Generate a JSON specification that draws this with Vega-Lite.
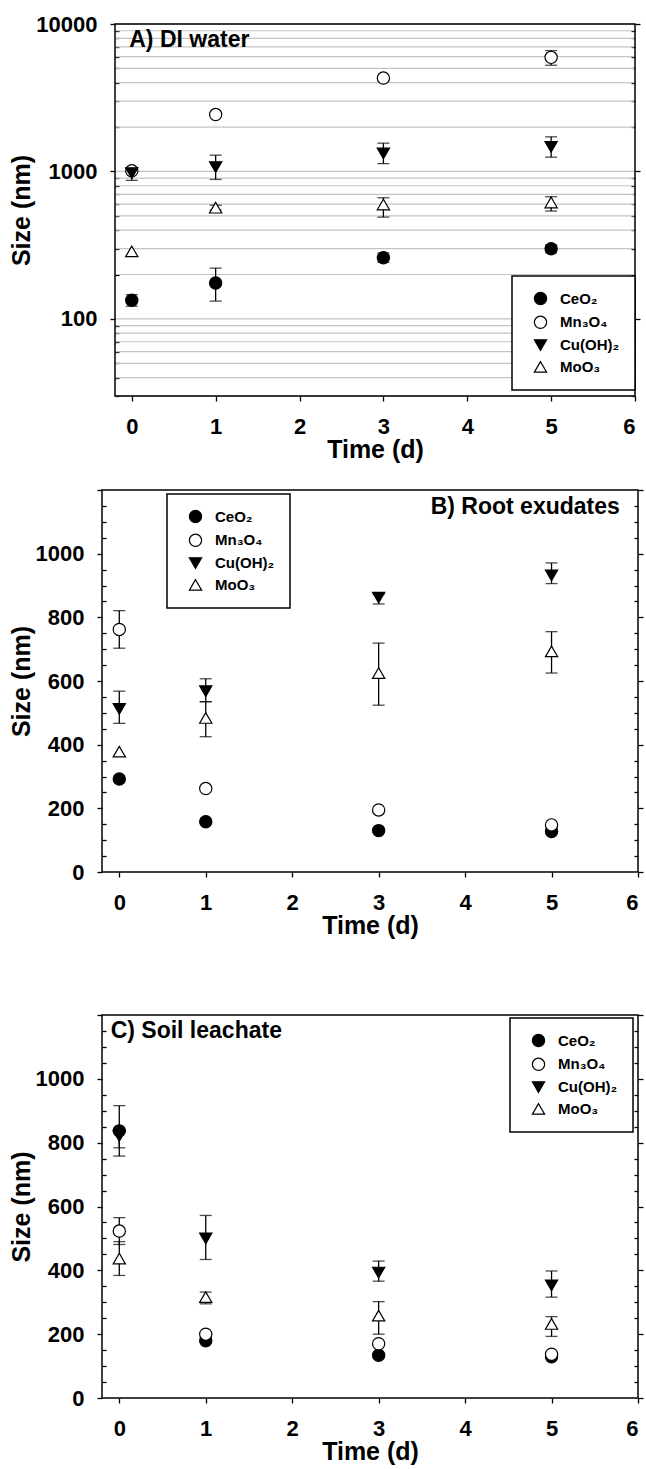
{
  "$schema": "https://vega.github.io/schema/vega-lite/v6.json",
  "padding": {"left": 8, "top": 13, "right": 4, "bottom": 4},
  "datasets": {
    "a": [
      {"t": 0, "s": "CeO₂", "v": 134, "lo": 122, "hi": 146},
      {"t": 1, "s": "CeO₂", "v": 175, "lo": 132, "hi": 221},
      {"t": 3, "s": "CeO₂", "v": 260, "lo": 242, "hi": 280},
      {"t": 5, "s": "CeO₂", "v": 299, "lo": 281, "hi": 318},
      {"t": 0, "s": "Mn₃O₄", "v": 1010, "lo": null, "hi": null},
      {"t": 1, "s": "Mn₃O₄", "v": 2430, "lo": null, "hi": null},
      {"t": 3, "s": "Mn₃O₄", "v": 4300, "lo": null, "hi": null},
      {"t": 5, "s": "Mn₃O₄", "v": 5940, "lo": 5250, "hi": 6600},
      {"t": 0, "s": "Cu(OH)₂", "v": 975, "lo": 870, "hi": 1060},
      {"t": 1, "s": "Cu(OH)₂", "v": 1070, "lo": 883, "hi": 1290},
      {"t": 3, "s": "Cu(OH)₂", "v": 1325, "lo": 1130, "hi": 1555},
      {"t": 5, "s": "Cu(OH)₂", "v": 1470, "lo": 1250, "hi": 1717},
      {"t": 0, "s": "MoO₃", "v": 287, "lo": null, "hi": null},
      {"t": 1, "s": "MoO₃", "v": 568, "lo": 548, "hi": 590},
      {"t": 3, "s": "MoO₃", "v": 597, "lo": 490, "hi": 663},
      {"t": 5, "s": "MoO₃", "v": 616, "lo": 539, "hi": 674}
    ],
    "grida": [
      {"g": 30}, {"g": 40}, {"g": 50}, {"g": 60}, {"g": 70}, {"g": 80}, {"g": 90},
      {"g": 100}, {"g": 200}, {"g": 300}, {"g": 400}, {"g": 500}, {"g": 600}, {"g": 700}, {"g": 800}, {"g": 900},
      {"g": 1000}, {"g": 2000}, {"g": 3000}, {"g": 4000}, {"g": 5000}, {"g": 6000}, {"g": 7000}, {"g": 8000}, {"g": 9000}, {"g": 10000}
    ],
    "b": [
      {"t": 0, "s": "CeO₂", "v": 292, "lo": null, "hi": null},
      {"t": 1, "s": "CeO₂", "v": 158, "lo": null, "hi": null},
      {"t": 3, "s": "CeO₂", "v": 130, "lo": null, "hi": null},
      {"t": 5, "s": "CeO₂", "v": 127, "lo": null, "hi": null},
      {"t": 0, "s": "Mn₃O₄", "v": 762, "lo": 703, "hi": 821},
      {"t": 1, "s": "Mn₃O₄", "v": 262, "lo": null, "hi": null},
      {"t": 3, "s": "Mn₃O₄", "v": 195, "lo": null, "hi": null},
      {"t": 5, "s": "Mn₃O₄", "v": 148, "lo": null, "hi": null},
      {"t": 0, "s": "Cu(OH)₂", "v": 512, "lo": 467, "hi": 568},
      {"t": 1, "s": "Cu(OH)₂", "v": 568, "lo": 535, "hi": 607},
      {"t": 3, "s": "Cu(OH)₂", "v": 862, "lo": 842, "hi": 872},
      {"t": 5, "s": "Cu(OH)₂", "v": 932, "lo": 906, "hi": 971},
      {"t": 0, "s": "MoO₃", "v": 378, "lo": null, "hi": null},
      {"t": 1, "s": "MoO₃", "v": 484, "lo": 425, "hi": 535},
      {"t": 3, "s": "MoO₃", "v": 625, "lo": 524, "hi": 719},
      {"t": 5, "s": "MoO₃", "v": 693, "lo": 625, "hi": 755}
    ],
    "c": [
      {"t": 0, "s": "CeO₂", "v": 837, "lo": 784, "hi": 837},
      {"t": 1, "s": "CeO₂", "v": 179, "lo": null, "hi": null},
      {"t": 3, "s": "CeO₂", "v": 134, "lo": null, "hi": null},
      {"t": 5, "s": "CeO₂", "v": 129, "lo": null, "hi": null},
      {"t": 0, "s": "Mn₃O₄", "v": 523, "lo": 481, "hi": 565},
      {"t": 1, "s": "Mn₃O₄", "v": 200, "lo": null, "hi": null},
      {"t": 3, "s": "Mn₃O₄", "v": 170, "lo": null, "hi": null},
      {"t": 5, "s": "Mn₃O₄", "v": 137, "lo": null, "hi": null},
      {"t": 0, "s": "Cu(OH)₂", "v": 821, "lo": 758, "hi": 916},
      {"t": 1, "s": "Cu(OH)₂", "v": 500, "lo": 434, "hi": 572},
      {"t": 3, "s": "Cu(OH)₂", "v": 393, "lo": 366, "hi": 429},
      {"t": 5, "s": "Cu(OH)₂", "v": 353, "lo": 316, "hi": 398},
      {"t": 0, "s": "MoO₃", "v": 437, "lo": 384, "hi": 490},
      {"t": 1, "s": "MoO₃", "v": 316, "lo": 295, "hi": 332},
      {"t": 3, "s": "MoO₃", "v": 258, "lo": 200, "hi": 302},
      {"t": 5, "s": "MoO₃", "v": 232, "lo": 193, "hi": 255}
    ],
    "labels": [
      {"panel": "A", "x": -0.03, "y": 7790, "label": "A) DI water"},
      {"panel": "B", "x": 5.79, "y": 1147, "label": "B) Root exudates"},
      {"panel": "C", "x": -0.1, "y": 1150, "label": "C) Soil leachate"}
    ]
  },
  "vconcat": [
    {
      "width": 533,
      "height": 372,
      "view": {"stroke": null},
      "data": {"name": "a"},
      "resolve": {"axis": {"y": "independent"}},
      "layer": [
        {"data": {"name": "grida"},
         "mark": {"type": "rule", "color": "#c4c4c4", "strokeWidth": 1.2},
         "encoding": {"x": {"datum": -0.2, "type": "quantitative"}, "x2": {"datum": 6}, "y": {"field": "g", "type": "quantitative", "axis": null}}},
        {"data": {"values": [{}]},
         "mark": {"type": "rect", "fill": null, "stroke": "black", "strokeWidth": 1.5},
         "encoding": {"x": {"datum": -0.2, "type": "quantitative"}, "x2": {"datum": 6}, "y": {"datum": 30, "type": "quantitative", "axis": null}, "y2": {"datum": 10000}}},
        {"mark": {"type": "rule", "color": "black", "strokeWidth": 1.3},
         "encoding": {"x": {"field": "t", "type": "quantitative"}, "y": {"field": "lo", "type": "quantitative", "axis": null}, "y2": {"field": "hi"}}},
        {"mark": {"type": "tick", "orient": "horizontal", "color": "black", "size": 12, "thickness": 1.3},
         "encoding": {"x": {"field": "t", "type": "quantitative"}, "y": {"field": "lo", "type": "quantitative", "axis": null}}},
        {"mark": {"type": "tick", "orient": "horizontal", "color": "black", "size": 12, "thickness": 1.3},
         "encoding": {"x": {"field": "t", "type": "quantitative"}, "y": {"field": "hi", "type": "quantitative", "axis": null}}},
        {"mark": {"type": "point", "size": 150, "strokeWidth": 1.2, "opacity": 1, "filled": true},
         "encoding": {
           "x": {"field": "t", "type": "quantitative", "scale": {"domain": [-0.2, 6], "range": [13, 533], "nice": false, "zero": false},
                 "axis": {"values": [0, 1, 2, 3, 4, 5, 6], "format": "d", "title": "Time (d)", "tickSize": 5, "labelPadding": 15, "titlePadding": 0}},
           "y": {"field": "v", "type": "quantitative", "scale": {"type": "log", "domain": [30, 10000], "nice": false},
                 "axis": {"title": "Size (nm)", "offset": -13, "values": [30, 40, 50, 60, 70, 80, 90, 100, 200, 300, 400, 500, 600, 700, 800, 900, 1000, 2000, 3000, 4000, 5000, 6000, 7000, 8000, 9000, 10000],
                          "labelExpr": "datum.value == 100 || datum.value == 1000 || datum.value == 10000 ? datum.value : ''",
                          "labelOverlap": false, "labelPadding": 13, "titlePadding": 1,
                          "tickSize": {"condition": {"test": "datum.value == 100 || datum.value == 1000 || datum.value == 10000", "value": 5}, "value": -4}}},
           "shape": {"field": "s", "type": "nominal", "scale": {"domain": ["CeO₂", "Mn₃O₄", "Cu(OH)₂", "MoO₃"], "range": ["circle", "circle", "triangle-down", "triangle-up"]},
                     "legend": {"title": null, "orient": "none", "legendX": 410, "legendY": 252}},
           "fill": {"field": "s", "type": "nominal", "scale": {"domain": ["CeO₂", "Mn₃O₄", "Cu(OH)₂", "MoO₃"], "range": ["black", "white", "black", "white"]},
                    "legend": {"title": null, "orient": "none", "legendX": 410, "legendY": 252}},
           "stroke": {"field": "s", "type": "nominal", "scale": {"domain": ["CeO₂", "Mn₃O₄", "Cu(OH)₂", "MoO₃"], "range": ["black", "black", "black", "black"]},
                      "legend": {"title": null, "orient": "none", "legendX": 410, "legendY": 252}}
         }},
        {"data": {"name": "labels"}, "transform": [{"filter": "datum.panel == 'A'"}],
         "mark": {"type": "text", "align": "left", "baseline": "middle", "fontSize": 23, "fontWeight": "bold", "color": "black"},
         "encoding": {"x": {"field": "x", "type": "quantitative"},
                      "y": {"field": "y", "type": "quantitative",
                            "axis": {"orient": "right", "title": null, "labels": false, "values": [30, 40, 50, 60, 70, 80, 90, 100, 200, 300, 400, 500, 600, 700, 800, 900, 1000, 2000, 3000, 4000, 5000, 6000, 7000, 8000, 9000, 10000],
                                     "tickSize": {"condition": {"test": "datum.value == 100 || datum.value == 1000 || datum.value == 10000", "value": 5}, "value": -4}}},
                      "text": {"field": "label"}}}
      ]
    },
    {
      "width": 536,
      "height": 382,
      "data": {"name": "b"},
      "resolve": {"axis": {"y": "independent"}},
      "layer": [
        {"mark": {"type": "rule", "color": "black", "strokeWidth": 1.3},
         "encoding": {"x": {"field": "t", "type": "quantitative"}, "y": {"field": "lo", "type": "quantitative", "axis": null}, "y2": {"field": "hi"}}},
        {"mark": {"type": "tick", "orient": "horizontal", "color": "black", "size": 12, "thickness": 1.3},
         "encoding": {"x": {"field": "t", "type": "quantitative"}, "y": {"field": "lo", "type": "quantitative", "axis": null}}},
        {"mark": {"type": "tick", "orient": "horizontal", "color": "black", "size": 12, "thickness": 1.3},
         "encoding": {"x": {"field": "t", "type": "quantitative"}, "y": {"field": "hi", "type": "quantitative", "axis": null}}},
        {"mark": {"type": "point", "size": 150, "strokeWidth": 1.2, "opacity": 1, "filled": true},
         "encoding": {
           "x": {"field": "t", "type": "quantitative", "scale": {"domain": [-0.2, 6], "nice": false, "zero": false},
                 "axis": {"values": [0, 1, 2, 3, 4, 5, 6], "format": "d", "title": "Time (d)", "tickSize": 5, "labelPadding": 15, "titlePadding": 0}},
           "y": {"field": "v", "type": "quantitative", "scale": {"domain": [0, 1200], "nice": false},
                 "axis": {"title": "Size (nm)", "values": [0, 50, 100, 150, 200, 250, 300, 350, 400, 450, 500, 550, 600, 650, 700, 750, 800, 850, 900, 950, 1000, 1050, 1100, 1150, 1200],
                          "labelExpr": "datum.value % 200 == 0 && datum.value <= 1000 ? datum.value : ''",
                          "labelOverlap": false, "labelPadding": 13, "titlePadding": 1,
                          "tickSize": {"condition": {"test": "datum.value % 200 == 0", "value": 5}, "value": -4}}},
           "shape": {"field": "s", "type": "nominal", "scale": {"domain": ["CeO₂", "Mn₃O₄", "Cu(OH)₂", "MoO₃"], "range": ["circle", "circle", "triangle-down", "triangle-up"]},
                     "legend": {"title": null, "orient": "none", "legendX": 65, "legendY": 4}},
           "fill": {"field": "s", "type": "nominal", "scale": {"domain": ["CeO₂", "Mn₃O₄", "Cu(OH)₂", "MoO₃"], "range": ["black", "white", "black", "white"]},
                    "legend": {"title": null, "orient": "none", "legendX": 65, "legendY": 4}},
           "stroke": {"field": "s", "type": "nominal", "scale": {"domain": ["CeO₂", "Mn₃O₄", "Cu(OH)₂", "MoO₃"], "range": ["black", "black", "black", "black"]},
                      "legend": {"title": null, "orient": "none", "legendX": 65, "legendY": 4}}
         }},
        {"data": {"name": "labels"}, "transform": [{"filter": "datum.panel == 'B'"}],
         "mark": {"type": "text", "align": "right", "baseline": "middle", "fontSize": 23, "fontWeight": "bold", "color": "black"},
         "encoding": {"x": {"field": "x", "type": "quantitative"},
                      "y": {"field": "y", "type": "quantitative",
                            "axis": {"orient": "right", "title": null, "labels": false, "values": [0, 50, 100, 150, 200, 250, 300, 350, 400, 450, 500, 550, 600, 650, 700, 750, 800, 850, 900, 950, 1000, 1050, 1100, 1150, 1200],
                                     "tickSize": {"condition": {"test": "datum.value % 200 == 0", "value": 5}, "value": -4}}},
                      "text": {"field": "label"}}}
      ]
    },
    {
      "width": 536,
      "height": 383,
      "title": {"text": " ", "fontSize": 2, "offset": 46},
      "data": {"name": "c"},
      "resolve": {"axis": {"y": "independent"}},
      "layer": [
        {"mark": {"type": "rule", "color": "black", "strokeWidth": 1.3},
         "encoding": {"x": {"field": "t", "type": "quantitative"}, "y": {"field": "lo", "type": "quantitative", "axis": null}, "y2": {"field": "hi"}}},
        {"mark": {"type": "tick", "orient": "horizontal", "color": "black", "size": 12, "thickness": 1.3},
         "encoding": {"x": {"field": "t", "type": "quantitative"}, "y": {"field": "lo", "type": "quantitative", "axis": null}}},
        {"mark": {"type": "tick", "orient": "horizontal", "color": "black", "size": 12, "thickness": 1.3},
         "encoding": {"x": {"field": "t", "type": "quantitative"}, "y": {"field": "hi", "type": "quantitative", "axis": null}}},
        {"mark": {"type": "point", "size": 150, "strokeWidth": 1.2, "opacity": 1, "filled": true},
         "encoding": {
           "x": {"field": "t", "type": "quantitative", "scale": {"domain": [-0.2, 6], "nice": false, "zero": false},
                 "axis": {"values": [0, 1, 2, 3, 4, 5, 6], "format": "d", "title": "Time (d)", "tickSize": 5, "labelPadding": 15, "titlePadding": 0}},
           "y": {"field": "v", "type": "quantitative", "scale": {"domain": [0, 1200], "nice": false},
                 "axis": {"title": "Size (nm)", "values": [0, 50, 100, 150, 200, 250, 300, 350, 400, 450, 500, 550, 600, 650, 700, 750, 800, 850, 900, 950, 1000, 1050, 1100, 1150, 1200],
                          "labelExpr": "datum.value % 200 == 0 && datum.value <= 1000 ? datum.value : ''",
                          "labelOverlap": false, "labelPadding": 13, "titlePadding": 1,
                          "tickSize": {"condition": {"test": "datum.value % 200 == 0", "value": 5}, "value": -4}}},
           "shape": {"field": "s", "type": "nominal", "scale": {"domain": ["CeO₂", "Mn₃O₄", "Cu(OH)₂", "MoO₃"], "range": ["circle", "circle", "triangle-down", "triangle-up"]},
                     "legend": {"title": null, "orient": "none", "legendX": 408, "legendY": 3}},
           "fill": {"field": "s", "type": "nominal", "scale": {"domain": ["CeO₂", "Mn₃O₄", "Cu(OH)₂", "MoO₃"], "range": ["black", "white", "black", "white"]},
                    "legend": {"title": null, "orient": "none", "legendX": 408, "legendY": 3}},
           "stroke": {"field": "s", "type": "nominal", "scale": {"domain": ["CeO₂", "Mn₃O₄", "Cu(OH)₂", "MoO₃"], "range": ["black", "black", "black", "black"]},
                      "legend": {"title": null, "orient": "none", "legendX": 408, "legendY": 3}}
         }},
        {"data": {"name": "labels"}, "transform": [{"filter": "datum.panel == 'C'"}],
         "mark": {"type": "text", "align": "left", "baseline": "middle", "fontSize": 23, "fontWeight": "bold", "color": "black"},
         "encoding": {"x": {"field": "x", "type": "quantitative"},
                      "y": {"field": "y", "type": "quantitative",
                            "axis": {"orient": "right", "title": null, "labels": false, "values": [0, 50, 100, 150, 200, 250, 300, 350, 400, 450, 500, 550, 600, 650, 700, 750, 800, 850, 900, 950, 1000, 1050, 1100, 1150, 1200],
                                     "tickSize": {"condition": {"test": "datum.value % 200 == 0", "value": 5}, "value": -4}}},
                      "text": {"field": "label"}}}
      ]
    }
  ],
  "spacing": 16,
  "resolve": {
    "scale": {"shape": "independent", "fill": "independent", "stroke": "independent"},
    "legend": {"shape": "independent", "fill": "independent", "stroke": "independent"}
  },
  "config": {
    "font": "Liberation Sans",
    "background": "white",
    "view": {"stroke": "black", "strokeWidth": 1.5},
    "axis": {"labelFont": "Liberation Sans", "labelFontWeight": "bold", "labelFontSize": 22, "labelColor": "black",
             "titleFont": "Liberation Sans", "titleFontWeight": "bold", "titleFontSize": 25, "titleColor": "black",
             "domain": false, "tickColor": "black", "tickWidth": 1.3, "grid": false},
    "legend": {"labelFont": "Liberation Sans", "labelFontSize": 15, "labelFontWeight": "bold", "labelColor": "black",
               "symbolSize": 150, "symbolStrokeColor": "black", "symbolStrokeWidth": 1.2,
               "padding": 15, "rowPadding": 4.8, "symbolOffset": 6, "labelOffset": 12,
               "strokeColor": "black", "strokeWidth": 1.5, "fillColor": "white"}
  }
}
